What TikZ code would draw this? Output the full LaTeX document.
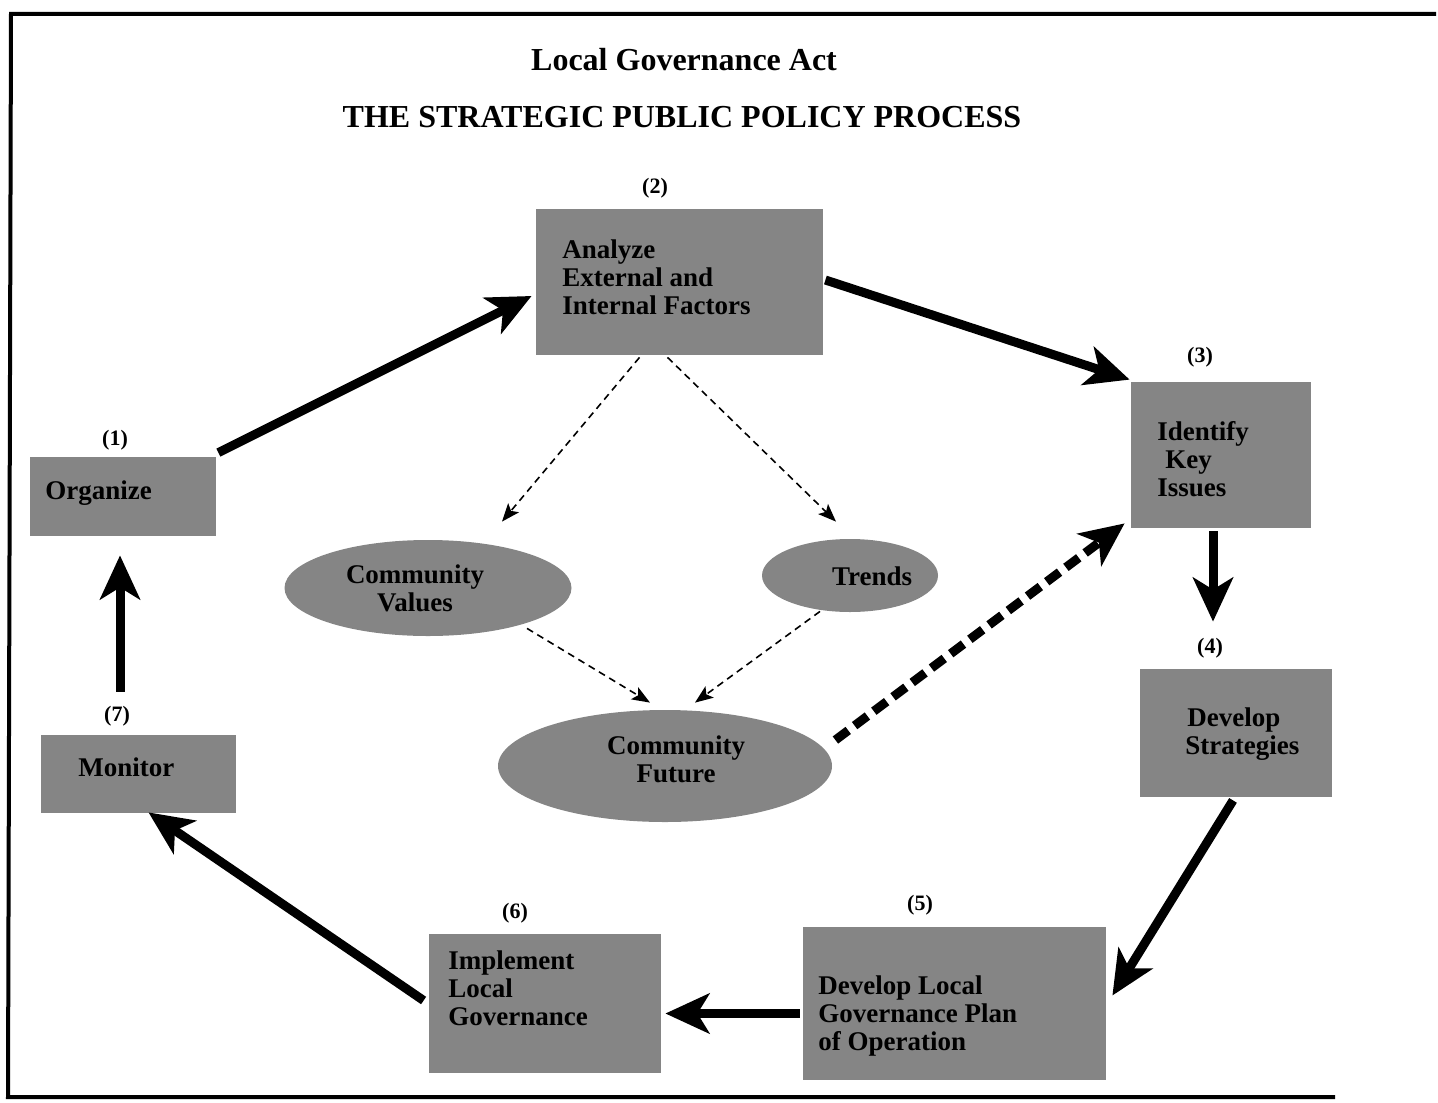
\documentclass[tikz,border=0pt]{standalone}
\usepackage{fontspec}
\setmainfont{Liberation Serif}
\usetikzlibrary{arrows.meta,shapes.geometric}
\begin{document}
\begin{tikzpicture}[x=0.5pt,y=-0.5pt,
  hatch/.style={fill=black!48,draw=none,inner sep=0pt},
  boxshape/.style={hatch,rectangle},
  ellshape/.style={hatch,ellipse},
  boxtext/.style={anchor=west,align=left,inner sep=0pt,font=\fontsize{13.5}{14}\selectfont\bfseries},
  elltext/.style={anchor=center,align=center,inner sep=0pt,font=\fontsize{13.5}{14}\selectfont\bfseries},
  numlabel/.style={inner sep=0pt,font=\fontsize{11}{12}\selectfont\bfseries},
  titletext/.style={font=\fontsize{16}{18}\selectfont\bfseries},
  bigarrow/.style={line width=4.5pt,-{Stealth[length=22pt,width=20pt,inset=6pt]}},
  thindash/.style={line width=0.8pt,dash pattern=on 3.5pt off 2.5pt,-{Stealth[length=9pt,width=7pt,inset=2pt]}},
  thickdash/.style={line width=4.5pt,dash pattern=on 8pt off 4pt,-{Stealth[length=22pt,width=20pt,inset=6pt]}}
]
\useasboundingbox (0,0) rectangle (1438,1102);
% frame
\coordinate (fa) at (1436,14);
\coordinate (fb) at (11,14);
\coordinate (fc) at (8,1097);
\coordinate (fd) at (1335,1097);
\draw[line width=2pt] (fa) -- (fb) -- (fc) -- (fd);
% titles
\node[titletext] (title1) at (684,60) {Local Governance Act};
\node[titletext] (title2) at (682,117) {THE STRATEGIC PUBLIC POLICY PROCESS};
% boxes
\node[boxshape,minimum width=93pt,minimum height=39.5pt] (b1) at (123,496.5) {};
\node[boxshape,minimum width=143.5pt,minimum height=73pt] (b2) at (679.5,282) {};
\node[boxshape,minimum width=90pt,minimum height=73pt] (b3) at (1221,455) {};
\node[boxshape,minimum width=96pt,minimum height=64pt] (b4) at (1236,733) {};
\node[boxshape,minimum width=151.5pt,minimum height=76.5pt] (b5) at (954.5,1003.5) {};
\node[boxshape,minimum width=116pt,minimum height=69.5pt] (b6) at (545,1003.5) {};
\node[boxshape,minimum width=97.5pt,minimum height=39pt] (b7) at (138.5,774) {};
% ellipses
\node[ellshape,minimum width=143.5pt,minimum height=48pt] (e1) at (428,588) {};
\node[ellshape,minimum width=88pt,minimum height=36.5pt] (e2) at (850,575.5) {};
\node[ellshape,minimum width=167pt,minimum height=56pt] (e3) at (665,766) {};
% texts
\node[boxtext] (t1) at (45,493) {Organize};
\node[boxtext] (t2) at (562,277) {Analyze\\External and\\Internal Factors};
\node[boxtext] (t3) at (1157,459) {Identify\\\hspace{4pt}Key\\Issues};
\node[boxtext] (t4) at (1185,734) {\hspace{1pt}Develop\\Strategies};
\node[boxtext] (t5) at (818,1016) {Develop Local\\Governance Plan\\of Operation};
\node[boxtext] (t6) at (448,988) {Implement\\Local\\Governance};
\node[boxtext] (t7) at (78,767) {Monitor};
\node[elltext] (s1) at (415,588) {Community\\Values};
\node[elltext] (s2) at (872,576) {Trends};
\node[elltext] (s3) at (676,759) {Community\\Future};
% number labels
\node[numlabel] (l1) at (115,440) {(1)};
\node[numlabel] (l2) at (655,188) {(2)};
\node[numlabel] (l3) at (1200,357) {(3)};
\node[numlabel] (l4) at (1210,648) {(4)};
\node[numlabel] (l5) at (920,905) {(5)};
\node[numlabel] (l6) at (515,913) {(6)};
\node[numlabel] (l7) at (117,716) {(7)};
% main cycle arrows
\draw[bigarrow] ([shift={(2,-4)}]b1.north east) -- ([shift={(-4,14)}]b2.west);
\draw[bigarrow] ([shift={(2,-2)}]b2.east) -- ([shift={(-1,-2)}]b3.north west);
\draw[bigarrow] ([shift={(-8,3)}]b3.south) -- ([shift={(3,-16)}]l4.north);
\draw[bigarrow] ([shift={(-3,3)}]b4.south) -- ([shift={(6,-8)}]b5.east);
\draw[bigarrow] ([shift={(-3,10)}]b5.west) -- ([shift={(4,10)}]b6.east);
\draw[bigarrow] ([shift={(-5,-3)}]b6.west) -- ([shift={(10,-1)}]b7.south);
\draw[bigarrow] ([shift={(3,-14)}]l7.north) -- ([shift={(-3,19)}]b1.south);
% dashed arrows
\draw[thindash] ([shift={(-40,2)}]b2.south) -- ([shift={(74,-18)}]e1.north);
\draw[thindash] ([shift={(-12,2)}]b2.south) -- ([shift={(-14,-17)}]e2.north);
\draw[thindash] ([shift={(99,-8)}]e1.south) -- ([shift={(-15,-7)}]e3.north);
\draw[thindash] ([shift={(-30,-1)}]e2.south) -- ([shift={(30,-7)}]e3.north);
\draw[thickdash] ([shift={(3,-26)}]e3.east) -- ([shift={(-6,-5)}]b3.south west);
\end{tikzpicture}
\end{document}
